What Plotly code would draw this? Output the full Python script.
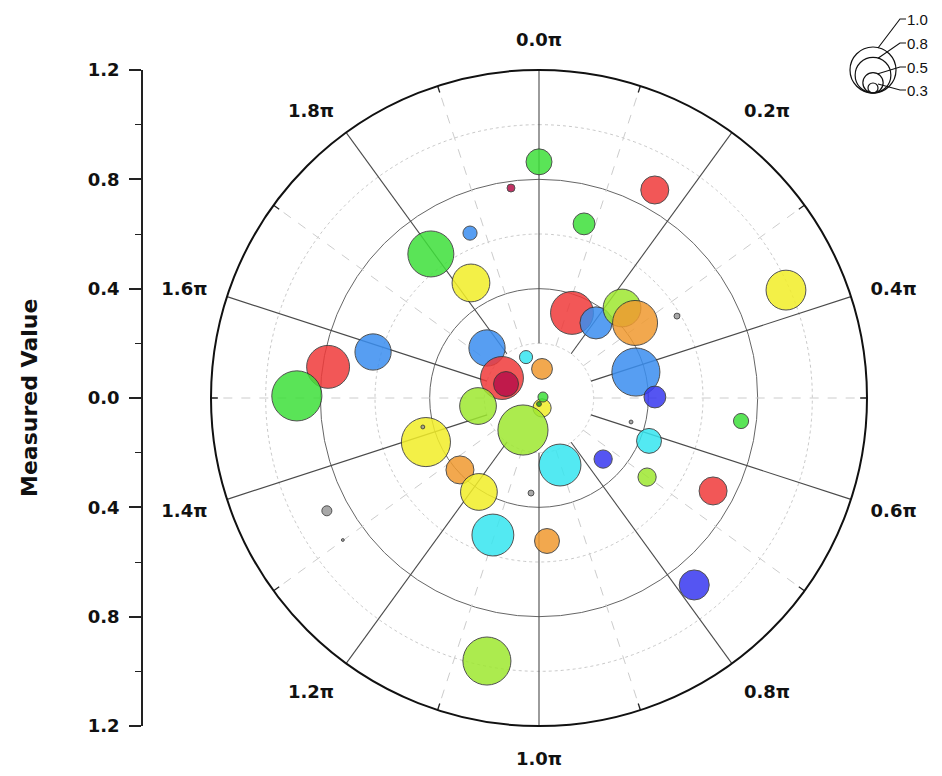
import numpy as np
import plotly.graph_objects as go

# ---------------- data ----------------
radius = [0.864, 0.775, 0.871, 0.658, 0.654, 0.659, 0.489, 0.986, 0.334, 0.345,
          0.448, 0.446, 0.587, 0.367, 0.424, 0.630, 0.780, 0.886, 0.264, 0.157,
          0.107, 0.154, 0.131, 0.225, 0.038, 0.015, 0.022, 0.131, 0.444, 0.438,
          0.391, 0.408, 0.257, 0.324, 0.432, 0.490, 0.348, 0.744, 0.722, 0.889,
          0.524, 0.529, 0.349, 0.981, 0.879, 0.886]
angle_deg = [0.0, 352.4, 29.1, 14.5, 337.3, 323.1, 329.4, 66.4, 21.2, 37.2,
             42.7, 52.0, 59.3, 75.0, 89.5, 285.5, 278.4, 270.5, 313.9, 342.4,
             5.9, 298.4, 293.0, 262.5, 163.0, 76.0, 180.0, 206.6, 248.7, 256.0,
             227.7, 212.6, 162.6, 133.6, 111.3, 126.2, 104.6, 96.5, 118.1, 140.3,
             176.8, 198.6, 184.8, 191.2, 242.0, 234.1]
size_value = [0.61, 0.26, 0.65, 0.53, 0.38, 1.00, 0.84, 0.88, 0.94, 0.73,
              0.84, 0.98, 0.22, 1.04, 0.53, 0.81, 0.94, 1.08, 0.81, 0.36,
              0.51, 0.94, 0.59, 0.82, 0.46, 0.30, 0.20, 1.08, 1.06, 0.18,
              0.65, 0.82, 0.92, 0.46, 0.59, 0.46, 0.18, 0.40, 0.65, 0.69,
              0.59, 0.92, 0.22, 1.04, 0.30, 0.16]
color_group = ["green", "crimson", "red", "green", "lightblue", "green", "yellow", "yellow", "red", "lightblue",
               "yellowgreen", "orange", "gray", "lightblue", "blue", "lightblue", "red", "green", "lightblue", "cyan",
               "orange", "red", "crimson", "yellowgreen", "yellow", "green", "darkgreen", "yellowgreen", "yellow", "gray",
               "orange", "yellow", "cyan", "blue", "cyan", "yellowgreen", "gray", "green", "red", "blue",
               "orange", "cyan", "gray", "yellowgreen", "gray", "gray"]

angle_tick_vals = [0, 36, 72, 108, 144, 180, 216, 252, 288, 324]
angle_tick_text = ["0.0π", "0.2π", "0.4π", "0.6π", "0.8π", "1.0π", "1.2π", "1.4π", "1.6π", "1.8π"]
left_tick_vals = [-1.2, -0.8, -0.4, 0.0, 0.4, 0.8, 1.2]
left_tick_text = ["1.2", "0.8", "0.4", "0.0", "0.4", "0.8", "1.2"]
legend_size_values = [1.0, 0.8, 0.5, 0.3]
legend_size_text = ["1.0", "0.8", "0.5", "0.3"]

# ---------------- styling ----------------
palette = {
    "red": "#f03a3a", "crimson": "#b8104a", "orange": "#f09a30", "yellow": "#f2ee28",
    "yellowgreen": "#9ee830", "green": "#3ee03a", "darkgreen": "#1a9a1a", "cyan": "#36e6f0",
    "lightblue": "#3a8ef0", "blue": "#3838f0", "gray": "#9a9a9a",
}

def diameter(v):
    return 51.4 * v - 5.4

W, H = 942, 776
CX, CY, R = 539, 398, 328

def px(x):
    return x / W

def py(y):
    return 1 - y / H

FONT = "DejaVu Sans, Liberation Sans, Arial, sans-serif"

fig = go.Figure()

theta_full = np.linspace(0, 360, 721)
for rr in [0.2, 0.6, 1.0]:
    fig.add_trace(go.Scatterpolar(r=[rr] * len(theta_full), theta=theta_full, mode="lines",
                                  line=dict(color="#c8c8c8", width=1, dash="dot"),
                                  hoverinfo="skip", showlegend=False))
for a in angle_tick_vals:
    fig.add_trace(go.Scatterpolar(r=[0.2, 1.2], theta=[a + 18, a + 18], mode="lines",
                                  line=dict(color="#cccccc", width=1, dash="dash"),
                                  hoverinfo="skip", showlegend=False))
for a in angle_tick_vals:
    fig.add_trace(go.Scatterpolar(r=[0.2, 1.2], theta=[a, a], mode="lines",
                                  line=dict(color="#4a4a4a", width=1.1),
                                  hoverinfo="skip", showlegend=False))
for a in angle_tick_vals:
    fig.add_trace(go.Scatterpolar(r=[1.175, 1.2], theta=[a + 18, a + 18], mode="lines",
                                  line=dict(color="#222222", width=1.3),
                                  hoverinfo="skip", showlegend=False))

fig.add_trace(go.Scatterpolar(
    r=radius, theta=angle_deg, mode="markers",
    marker=dict(size=[diameter(v) for v in size_value],
                color=[palette[c] for c in color_group],
                opacity=0.85, line=dict(color="#333333", width=1)),
    showlegend=False, hoverinfo="r+theta"))

fig.add_trace(go.Scatter(x=[0.5], y=[0], mode="markers", marker=dict(opacity=0),
                         hoverinfo="skip", showlegend=False, xaxis="x", yaxis="y"))

fig.update_layout(
    width=W, height=H, autosize=False,
    margin=dict(l=0, r=0, t=0, b=0, pad=0, autoexpand=False),
    paper_bgcolor="white", plot_bgcolor="rgba(0,0,0,0)",
    font=dict(family=FONT, color="#111111"),
    polar=dict(
        domain=dict(x=[px(CX - R), px(CX + R)], y=[py(CY + R), py(CY - R)]),
        bgcolor="white",
        radialaxis=dict(range=[0, 1.2], tickvals=[0.4, 0.8], showticklabels=False,
                        ticks="", showline=False, gridcolor="#666666", gridwidth=1.1),
        angularaxis=dict(rotation=90, direction="clockwise", tickmode="array",
                         tickvals=angle_tick_vals, ticktext=angle_tick_text,
                         showgrid=False, showline=True, linecolor="#111111", linewidth=2,
                         ticks="outside", ticklen=16, tickcolor="rgba(0,0,0,0)",
                         tickfont=dict(size=18, family=FONT, weight="bold", color="#111111")),
    ),
    xaxis=dict(domain=[px(143), 0.2], range=[0, 1], visible=False, automargin=False),
    yaxis=dict(domain=[py(CY + R), py(CY - R)], range=[-1.2, 1.2], anchor="x", automargin=False,
               tickmode="array", tickvals=left_tick_vals, ticktext=left_tick_text,
               showline=True, linecolor="#222222", linewidth=1.5,
               ticks="outside", ticklen=12, tickwidth=1.5, tickcolor="#222222",
               ticklabelstandoff=6,
               minor=dict(ticks="outside", ticklen=6, tickwidth=1.3, tickcolor="#222222",
                          tickmode="array", tickvals=[-1.0, -0.6, -0.2, 0.2, 0.6, 1.0]),
               showgrid=False, zeroline=False,
               tickfont=dict(size=18, family=FONT, weight="bold", color="#111111")),
)

annotations = [dict(text="Measured Value", x=px(30), y=py(CY), xref="paper", yref="paper",
                    xanchor="center", yanchor="middle",
                    textangle=-90, showarrow=False,
                    font=dict(size=22, family=FONT, weight="bold", color="#111111"))]

shapes = []
LX, LB = 873, 93
label_y = [19, 43, 67, 90]
for v, t, ly in zip(legend_size_values, legend_size_text, label_y):
    d = diameter(v)
    shapes.append(dict(type="circle", xref="paper", yref="paper",
                       x0=px(LX - d / 2), x1=px(LX + d / 2), y0=py(LB), y1=py(LB - d),
                       line=dict(color="#111111", width=1.2), fillcolor="rgba(0,0,0,0)"))
    top = LB - d
    sx, sy = LX + 5, top + 1
    path = "M {} {} L {} {} L {} {}".format(px(sx), py(sy), px(900), py(ly), px(906), py(ly))
    shapes.append(dict(type="path", xref="paper", yref="paper", path=path,
                       line=dict(color="#111111", width=1.1)))
    annotations.append(dict(text=t, x=px(905), y=py(ly), xref="paper", yref="paper",
                            xanchor="left", yanchor="middle", showarrow=False,
                            font=dict(size=15, family="Liberation Sans, Arial", color="#111111")))

fig.update_layout(annotations=annotations, shapes=shapes)

fig.write_html("out.html", config={"displayModeBar": False},
               post_script="document.body.style.margin='0';document.body.style.overflow='hidden';")
